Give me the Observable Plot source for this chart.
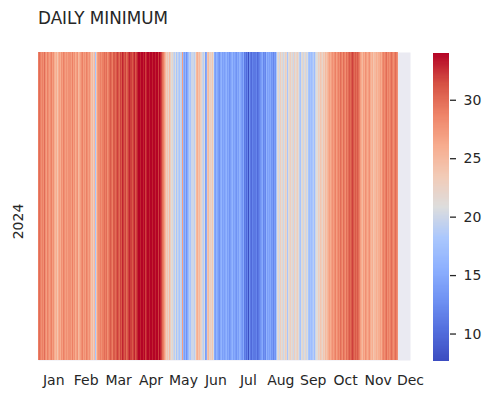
<!DOCTYPE html>
<html>
<head>
<meta charset="utf-8">
<script src="https://cdn.jsdelivr.net/npm/d3@7"></script>
<script src="https://cdn.jsdelivr.net/npm/@observablehq/plot@0.6"></script>
<style>
  html, body { margin: 0; padding: 0; background: #fff; }
  #wrap { position: relative; width: 491px; height: 399px; overflow: hidden; font-family: "DejaVu Sans", sans-serif; }
  #title { position: absolute; left: 38px; top: 10px; font-size: 16.8px; line-height: 16.8px; color: #262626; white-space: nowrap; }
  #main, #cbar { position: absolute; top: 0; }
  #main { left: 0; }
  #cbar { left: 420px; }
</style>
</head>
<body>
<div id="wrap">
  <div id="main"></div>
  <div id="cbar"></div>
  <div id="title">DAILY MINIMUM</div>
</div>
<script>
// ---- data: daily minimum values (2024) ----
const year = "2024";
const jan = [29,30,29,28,29,28,30,28,27,29,28,27,28,29,27,28,26,25,26,24,26,27,26,28,27,29,28,27,28,27,28];
const feb = [28,27,29,27,28,26,27,28,25,26,27,28,29,27,28,27,29,28,27,28,26,24,25,23,25,18,24,27,28];
const mar = [28,29,28,29,29,30,29,30,28,29,30,31,30,29,31,31,30,31,32,31,30,32,31,33,32,31,32,30,31,32,33];
const apr = [32,31,32,33,31,32,33,34,34,33,34,34,33,34,32,33,34,34,33,34,34,33,34,34,33,34,34,32,34,33];
const may = [32,30,29,27,25,23,24,22,25,23,21,22,20,19,21,18,20,19,18,20,19,27,16,14,16,13,15,17,19,18,20];
const jun = [20,19,21,25,26,24,25,23,22,20,19,21,14,15,24,25,22,23,22,24,21,15,14,16,15,14,13,15,16,14];
const jul = [15,14,15,16,14,15,13,14,15,16,14,15,14,13,15,14,16,15,14,13,15,11,12,10,12,7.7,13,11,10,12,11];
const aug = [11,12,10,11,12,13,14,15,12,13,12,16,14,15,14,15,13,14,12,14,13,18,21,22,20,23,21,22,20,21,23];
const sep = [22,18,21,22,23,21,22,20,23,21,22,23,21,19,18,21,22,20,21,22,20,21,18,17,18,17,18,19,17,20];
const oct = [21,23,22,24,23,22,24,23,25,24,25,26,27,26,27,28,27,28,29,27,28,29,28,30,29,28,30,29,28,30,29];
const nov = [30,31,30,31,32,31,30,31,30,31,30,29,27,26,25,27,26,28,27,26,27,28,26,25,26,24,25,25,26,25];
const dec = [26,27,26,28,29,28,29,30,28,29,28,29,30,29,28,29,30,29,28,null,null,null,null,null,null,null,null,null,null,null,null];

const monthLabels = ["Jan","Feb","Mar","Apr","May","Jun","Jul","Aug","Sep","Oct","Nov","Dec"];
const monthTickDays = [15, 46.9, 78.8, 110.7, 142.6, 174.5, 206.5, 238.4, 270.3, 302.2, 334.1, 366];
const colorTicks = [10, 15, 20, 25, 30];
const colorDomain = [7.65, 34.0];

// coolwarm colormap anchors
const coolwarm = ["#3b4cc0","#536edd","#6f92f3","#8db0fe","#aac7fd","#dddddd","#f2cbb7","#f7ac8e","#ee8468","#d65244","#b40426"];

const values = [].concat(jan, feb, mar, apr, may, jun, jul, aug, sep, oct, nov, dec);
const rows = values.map((v, i) => ({day: i, day1: i + 1, value: v, year}));

const cDomain = coolwarm.map((_, i) => colorDomain[0] + (colorDomain[1] - colorDomain[0]) * i / (coolwarm.length - 1));
const colorScale = {type: "linear", domain: cDomain, range: coolwarm, interpolate: "rgb", clamp: true};

const ink = "#262626";

const main = Plot.plot({
  width: 491,
  height: 399,
  marginLeft: 38,
  marginRight: 81,
  marginTop: 52,
  marginBottom: 39,
  style: {background: "transparent", fontFamily: "DejaVu Sans, sans-serif", fontSize: "14px", color: ink},
  x: {domain: [0, 366], axis: null},
  y: {domain: [year], padding: 0, axis: null},
  color: colorScale,
  marks: [
    Plot.frame({fill: "#eaeaf2", stroke: null}),
    Plot.barX(rows.filter(d => d.value != null), {x1: "day", x2: "day1", y: "year", fill: "value", shapeRendering: "crispEdges"}),
    Plot.axisX({
      ticks: monthTickDays,
      tickFormat: (d, i) => monthLabels[i],
      tickSize: 0,
      tickPadding: 15,
      fontSize: 14,
      fill: ink,
      label: null
    }),
    Plot.axisY({
      tickSize: 0,
      tickPadding: 16,
      tickRotate: -90,
      dy: 15,
      fontSize: 14,
      fill: ink,
      label: null
    })
  ]
});
document.getElementById("main").appendChild(main);

// colorbar
const barSteps = d3.range(0, 264).map(i => {
  const lo = colorDomain[0] + (colorDomain[1] - colorDomain[0]) * i / 264;
  const hi = colorDomain[0] + (colorDomain[1] - colorDomain[0]) * (i + 1.2) / 264;
  return {lo, hi: Math.min(hi, colorDomain[1]), mid: (lo + hi) / 2};
});
const cbar = Plot.plot({
  width: 71,
  height: 399,
  marginLeft: 13,
  marginRight: 42,
  marginTop: 53,
  marginBottom: 38,
  style: {background: "transparent", fontFamily: "DejaVu Sans, sans-serif", fontSize: "14px", color: ink},
  x: {domain: [0, 1], axis: null},
  y: {domain: colorDomain, axis: null},
  color: colorScale,
  marks: [
    Plot.rect(barSteps, {x1: 0, x2: 1, y1: "lo", y2: "hi", fill: "mid", shapeRendering: "crispEdges"}),
    Plot.axisY({
      anchor: "right",
      ticks: colorTicks,
      tickSize: 6,
      tickPadding: 8,
      strokeWidth: 1.3,
      stroke: ink,
      fontSize: 14,
      fill: ink,
      label: null
    })
  ]
});
document.getElementById("cbar").appendChild(cbar);
</script>
</body>
</html>
